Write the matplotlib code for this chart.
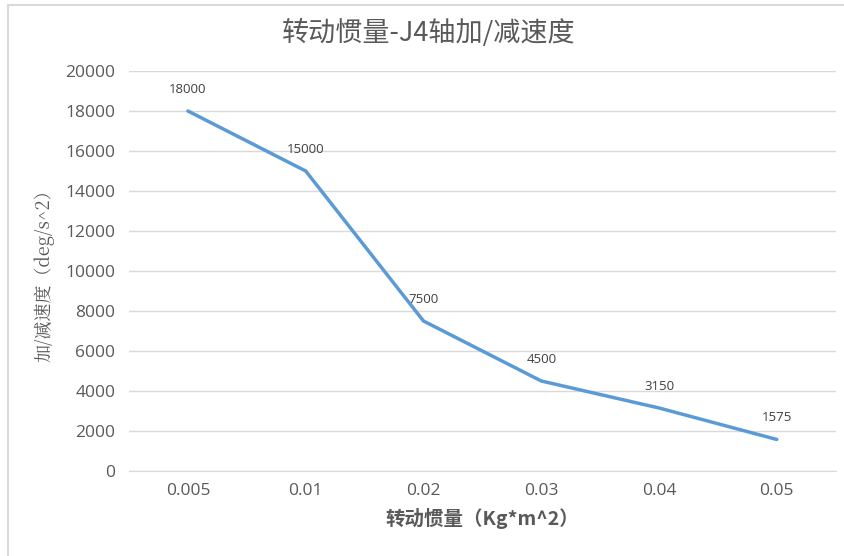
import matplotlib.pyplot as plt
from matplotlib.patches import Rectangle

plt.rcParams['font.family'] = ['Noto Sans CJK SC', 'DejaVu Sans']

inertia = ["0.005", "0.01", "0.02", "0.03", "0.04", "0.05"]
accel = [18000, 15000, 7500, 4500, 3150, 1575]
y_ticks = [0, 2000, 4000, 6000, 8000, 10000, 12000, 14000, 16000, 18000, 20000]

grey = "#595959"
num_font = ['Open Sans', 'DejaVu Sans']
fig = plt.figure(figsize=(8.45, 5.56), dpi=100)
ax = fig.add_axes([0.1527, 0.1529, 0.8363, 0.7194])

pos = list(range(len(inertia)))
ax.plot(pos, accel, color="#5B9BD5", linewidth=2.5, solid_capstyle="round")
for x, v in zip(pos, accel):
    ax.annotate(str(v), (x, v), xytext=(0, 11), textcoords="offset points",
                ha="center", va="bottom", fontsize=9.5, color="#404040",
                family=num_font)

ax.set_xlim(-0.5, len(inertia) - 0.5)
ax.set_ylim(0, 20000)
ax.set_xticks(pos)
ax.set_xticklabels(inertia, family=num_font)
ax.set_yticks(y_ticks)
ax.set_yticklabels([str(t) for t in y_ticks], family=num_font)
ax.tick_params(axis="both", length=0, labelsize=12.5, labelcolor=grey)
ax.tick_params(axis="y", pad=10)
ax.tick_params(axis="x", pad=9)
ax.grid(axis="y", color="#D9D9D9", linewidth=1)
ax.set_axisbelow(True)
for s in ["top", "right", "left"]:
    ax.spines[s].set_visible(False)
ax.spines["bottom"].set_color("#D9D9D9")

fig.text(429 / 845, 1 - 33 / 556, "转动惯量-J4轴加/减速度", fontsize=19.5, color=grey,
         fontweight="medium", ha="center", va="center")
ax.set_xlabel("转动惯量（Kg*m^2）", fontsize=14, color=grey, fontweight="bold", labelpad=6)
ax.set_ylabel("加/减速度（deg/s^2）", fontsize=13, color=grey, labelpad=8,
              family=['Noto Serif CJK SC', 'Noto Sans CJK SC', 'DejaVu Sans'])

fig.patches.append(Rectangle((8 / 845, -0.01), 1.0, 1 - 5 / 556 + 0.01,
                             transform=fig.transFigure, fill=False,
                             edgecolor="#D9D9D9", linewidth=1.5))

fig.savefig("out.png", dpi=100)
